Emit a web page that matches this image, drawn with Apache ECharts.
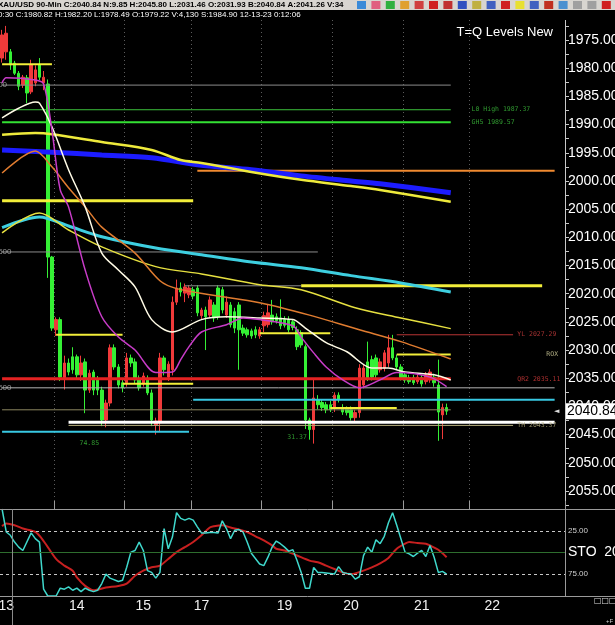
<!DOCTYPE html>
<html>
<head>
<meta charset="utf-8">
<script src="https://cdn.jsdelivr.net/npm/echarts@6.0.0/dist/echarts.min.js"></script>
<style>
  html, body { margin: 0; padding: 0; background: #000; }
  #chart { width: 615px; height: 625px; }
</style>
</head>
<body>
<div id="chart"></div>
<script>
  // 90-min candles, [open, close, low, high]
  var candles = [
    [1978.2,1974.1,1973.2,1979.0],[1977.1,1973.8,1972.5,1978.5],[1977.1,1979.4,1976.6,1980.3],[1979.1,1980.9,1978.7,1981.2],
    [1980.9,1983.2,1980.5,1983.9],[1983.0,1981.6,1981.2,1983.5],[1981.7,1984.4,1981.2,1986.2],[1984.2,1979.4,1978.5,1984.6],
    [1982.6,1980.3,1979.5,1983.2],[1979.4,1981.6,1978.2,1982.1],[1982.6,1981.6,1980.5,1983.9],[1982.8,2013.5,1982.0,2017.2],
    [2013.5,2026.1,2013.3,2026.6],[2026.4,2024.6,2024.2,2027.5],[2024.6,2034.8,2024.2,2035.5],[2034.9,2032.3,2031.0,2037.0],
    [2032.3,2033.9,2031.5,2034.5],[2031.2,2033.5,2029.5,2034.2],[2031.2,2034.4,2030.8,2035.2],[2034.4,2032.3,2031.0,2035.5],
    [2032.1,2037.1,2031.5,2041.2],[2037.1,2034.1,2033.5,2037.6],[2033.9,2037.1,2033.5,2038.0],[2035.3,2037.1,2034.6,2038.0],
    [2037.1,2042.4,2036.5,2043.5],[2042.4,2039.4,2038.8,2043.7],[2039.4,2029.6,2029.0,2040.0],[2029.6,2033.0,2029.0,2033.5],
    [2033.0,2036.2,2032.5,2036.8],[2035.8,2036.7,2035.0,2037.5],[2035.8,2031.4,2030.5,2036.5],[2031.4,2032.3,2030.8,2033.0],
    [2032.1,2035.3,2031.5,2036.0],[2035.0,2036.7,2034.5,2037.2],[2036.0,2034.6,2034.0,2036.5],[2035.0,2037.6,2034.5,2038.0],
    [2037.6,2042.4,2037.0,2043.5],[2043.3,2042.6,2042.0,2045.0],[2042.9,2031.4,2030.5,2044.5],[2031.4,2033.5,2031.0,2034.5],
    [2034.8,2032.5,2032.0,2035.5],[2033.5,2021.5,2020.5,2034.5],[2021.5,2019.0,2017.5,2022.0],[2019.0,2019.7,2018.0,2020.5],
    [2019.9,2018.8,2018.2,2021.5],[2020.2,2019.0,2018.5,2020.8],[2019.3,2020.4,2018.8,2021.0],[2019.0,2023.4,2018.5,2024.0],
    [2023.9,2022.9,2022.5,2024.5],[2022.9,2024.1,2022.3,2030.0],[2023.8,2021.1,2020.5,2024.3],[2022.0,2024.3,2021.5,2025.0],
    [2019.0,2024.1,2018.5,2024.6],[2019.3,2022.9,2018.8,2023.5],[2023.8,2021.5,2020.5,2024.3],[2022.0,2025.5,2021.5,2026.0],
    [2023.2,2026.1,2022.5,2027.0],[2022.0,2026.4,2021.5,2033.5],[2026.1,2027.0,2025.5,2027.5],[2026.4,2027.3,2026.0,2027.8],
    [2026.6,2027.5,2026.2,2028.0],[2026.4,2027.3,2025.8,2027.9],[2027.5,2026.4,2025.9,2028.0],[2025.7,2023.9,2023.2,2026.8],
    [2025.5,2023.4,2022.0,2026.0],[2023.8,2025.0,2021.1,2025.5],[2024.1,2024.8,2023.5,2025.3],[2024.3,2025.7,2021.0,2026.3],
    [2024.6,2025.6,2024.0,2026.0],[2024.6,2026.4,2024.0,2026.9],[2025.0,2026.0,2024.5,2026.5],[2026.4,2029.4,2025.8,2030.0],
    [2026.9,2029.1,2026.5,2029.6],[2029.4,2042.4,2029.0,2044.0],[2042.4,2044.1,2042.0,2045.9],[2044.1,2038.5,2035.0,2046.6],
    [2038.8,2039.7,2038.0,2040.5],[2039.3,2040.2,2038.8,2040.8],[2039.7,2040.6,2039.2,2041.2],[2039.7,2040.6,2039.0,2041.0],
    [2040.1,2038.0,2037.5,2041.0],[2038.0,2038.8,2037.5,2039.3],[2040.2,2041.0,2039.6,2041.5],[2040.5,2041.1,2040.0,2041.6],
    [2040.6,2042.0,2040.0,2042.5],[2042.0,2041.1,2040.6,2042.6],[2041.1,2033.2,2032.5,2042.0],[2036.2,2033.2,2032.5,2036.8],
    [2032.1,2034.9,2028.5,2035.5],[2031.7,2034.8,2031.0,2035.4],[2031.4,2034.4,2030.8,2035.0],[2033.5,2032.1,2031.5,2034.0],
    [2033.2,2030.5,2030.0,2033.8],[2032.3,2029.6,2027.3,2033.0],[2029.6,2031.4,2027.3,2031.8],[2031.4,2033.0,2030.8,2033.5],
    [2033.0,2034.9,2032.5,2035.4],[2034.4,2035.3,2034.0,2035.8],[2034.9,2035.6,2034.4,2036.0],[2034.9,2035.8,2034.4,2036.2],
    [2035.6,2034.8,2034.3,2036.0],[2034.9,2036.0,2034.4,2036.5],[2035.6,2034.4,2033.9,2036.1],[2035.3,2033.9,2033.4,2035.8],
    [2034.8,2035.8,2034.2,2036.5],[2036.2,2041.0,2031.7,2046.1],[2041.5,2040.2,2039.5,2045.8],[2040.2,2040.84,2039.5,2041.5]
  ];
  var lastClose = 2040.84;
  var slotCount = 136;

  var dayLabels = ['13', '14', '15', '17', '19', '20', '21', '22'];
  var dayLabelIdx = [1, 18, 34, 48, 68, 84, 101, 118];
  var sessionIdx = [13, 30, 46, 63, 80, 97, 113];

  var priceLabels = [1975, 1980, 1985, 1990, 1995, 2000, 2005, 2010, 2015, 2020, 2025, 2030, 2035, 2040, 2045, 2050, 2055];
  var priceTicks = [1972.5, 1975, 1977.5, 1980, 1982.5, 1985, 1987.5, 1990, 1992.5, 1995, 1997.5, 2000, 2002.5, 2005,
    2007.5, 2010, 2012.5, 2015, 2017.5, 2020, 2022.5, 2025, 2027.5, 2030, 2032.5, 2035, 2037.5, 2040, 2042.5, 2045,
    2047.5, 2050, 2052.5, 2055, 2057.5];

  // moving averages, [bar, price]
  var blueMA = [[0,1994.5],[12,1994.9],[24,1995.4],[36,1995.9],[48,1997.2],[60,1998.0],[72,1999.1],[84,2000.0],[91,2000.5],[108,2002.1]];
  var yellowMA = [[0,1991.8],[8,1991.5],[12,1991.7],[24,1993.1],[36,1994.5],[43,1996.3],[48,1996.8],[60,1998.4],[72,1999.8],[84,2000.9],[91,2001.6],[108,2003.7]];
  var cyanMA = [[0,2008.3],[9,2006.4],[16,2008.0],[24,2009.9],[37,2011.9],[48,2013.1],[60,2014.4],[72,2015.4],[84,2016.8],[96,2018.1],[108,2019.7]];
  var yellowMA2 = [[0,2009.2],[9,2005.7],[16,2008.7],[24,2011.7],[37,2015.2],[48,2016.5],[62,2018.4],[72,2019.3],[85,2022.5],[96,2024.3],[108,2026.2]];
  var orangeMA = [[0,1998.6],[8,1994.7],[12,1997.5],[16,2001.2],[20,2004.6],[24,2008.2],[32,2012.8],[38,2017.7],[42,2019.1],[50,2020.2],[62,2021.6],[74,2023.8],[86,2026.4],[96,2028.5],[108,2031.6]];
  var whiteMA = [[0,1988.8],[4,1987.1],[8,1986.0],[9,1986.2],[12,1990.4],[16,1998.0],[20,2004.6],[24,2012.8],[28,2015.8],[32,2018.8],[36,2024.6],[41,2026.8],[48,2024.6],[54,2024.1],[62,2024.3],[70,2024.6],[73,2026.1],[78,2028.7],[83,2030.3],[89,2033.2],[93,2033.2],[97,2033.9],[104,2034.4],[108,2035.3]];
  var magentaMA = [[0,1982.6],[1,1981.7],[8,1982.1],[10,1982.8],[12,1991.0],[14,2001.6],[16,2004.6],[20,2015.8],[24,2024.1],[28,2027.7],[32,2030.0],[37,2034.0],[41,2033.9],[43,2031.7],[45,2029.4],[48,2026.8],[54,2025.5],[58,2024.3],[62,2024.6],[70,2025.7],[72,2027.7],[75,2030.5],[78,2033.0],[82,2035.3],[86,2036.7],[91,2035.3],[95,2034.0],[103,2034.8],[107,2036.5]];

  // stochastic %K / %D, [bar, value]
  var stochK = [[0,0],[1,26.4],[2,30.2],[3,38],[4,43.8],[5,47.7],[7,27.5],[8,34.1],[9,38],[10,92.2],[11,100],[13,100],[14,91],
    [15,92.2],[16,89.5],[17,93.4],[18,91],[19,95],[20,91],[21,93.4],[22,95],[23,93.4],[24,85.7],[25,74.8],[26,79.5],[28,83.3],
    [29,81.8],[30,67],[31,49.6],[32,47.7],[33,38],[34,47.7],[35,70.9],[36,72.9],[37,79.5],[38,72.9],[39,22.5],[40,45.7],
    [41,32.2],[42,4.3],[43,10.8],[44,12.8],[45,10.8],[46,12.8],[47,20.5],[48,27.5],[49,27.5],[50,27.1],[51,27.1],[52,27.5],
    [53,13.6],[54,22.5],[55,34.1],[56,24.4],[57,23.6],[58,26.4],[59,38],[60,50.8],[62,63.2],[63,65.1],[64,55.4],[65,43.8],
    [66,36.8],[67,39.9],[68,43.8],[69,48.4],[70,46.9],[71,59.3],[72,72.9],[73,91.1],[74,91.1],[75,67.1],[76,72.9],[77,72.9],
    [79,74],[80,74.8],[81,66.3],[82,72.9],[83,74],[84,74.8],[85,80.6],[86,77.9],[87,53.5],[88,43.8],[89,49.6],[90,35.3],
    [91,39.9],[92,31.4],[93,15.9],[94,4.3],[95,18.6],[96,34.1],[97,49.6],[98,51.6],[99,54.6],[100,50.8],[101,47.7],[102,54.6],
    [103,41.9],[104,55.4],[105,72.9],[106,71.7],[107,74.8]];
  var stochD = [[0,19.8],[1,16.7],[3,18.6],[5,22.5],[8,26.4],[10,36.8],[13,57.4],[15,65.1],[17,70.9],[18,78.7],[20,88.4],
    [22,93.4],[25,90.3],[28,88.4],[30,85.7],[32,76.7],[34,70.9],[36,67],[38,65.1],[40,57.4],[42,49.6],[44,43.8],[46,38],
    [48,30.2],[50,21.3],[51,19.8],[53,18.6],[55,21.3],[57,23.6],[59,26.4],[61,31.4],[63,36],[65,41.9],[66,45.7],[68,47.7],
    [71,53.5],[74,59.3],[76,61.2],[78,65.1],[80,69],[82,72.9],[84,74.8],[85,74],[87,70.9],[89,67],[91,62.4],[93,56.2],
    [95,45.7],[97,39.9],[98,38],[100,39.1],[102,39.9],[103,41.9],[105,46.9],[107,55.4]];

  // horizontal levels: [kind, price, from bar, to bar]
  var levelLines = [
    ['yellow', 1979.3, 0, 12], ['gray', 1983.0, 0, 108], ['greenThin', 1987.37, 0, 108], ['green', 1989.57, 0, 108],
    ['orange', 1998.2, 47, 133], ['yellowWide', 2003.5, 0, 46], ['gray', 2012.6, 0, 76], ['gray', 2018.6, 44, 72],
    ['yellowWide', 2018.6, 72, 130], ['yellow', 2027.3, 13, 29], ['yellow', 2027.0, 62, 79], ['redThin', 2027.29, 95, 123],
    ['yellow', 2030.8, 95, 108], ['red', 2035.11, 0, 108], ['grayLight', 2036.7, 0, 133], ['yellow', 2036.0, 29, 46],
    ['cyan', 2038.8, 46, 133], ['yellow', 2040.3, 79, 95], ['olive', 2040.6, 0, 108], ['khaki', 2043.37, 16, 123],
    ['white', 2042.8, 16, 133], ['cyan', 2044.5, 0, 45]
  ];
  // level captions: [text, price, bar]
  var levelTags = [['L0 High 1987.37', 1987.37, 113], ['GH5 1989.57', 1989.57, 113], ['YL 2027.29', 2027.29, 124],
    ['ROX', 2030.8, 131], ['QR2 2035.11', 2035.11, 124], ['TH 2043.37', 2043.37, 124]];
  var lowTags = [['74.85', 2046.5, 21], ['31.37', 2045.4, 71]];
  var edgeTags = [['00', 1983.0], ['500', 2012.6], ['500', 2036.7]];

  var headerTop = 'XAU/USD 90-Min C:2040.84 N:9.85 H:2045.80 L:2031.46 O:2031.93 B:2040.84 A:2041.26 V:34';
  var headerBottom = '0:30 C:1980.82 H:1982.20 L:1978.49 O:1979.22 V:4,130 S:1984.90 12-13-23 0:12:06';

  var levelStyle = {
    yellow: ['#f2ee3a', 2], yellowWide: ['#f2ee3a', 3], gray: ['#8c8c8c', 1], grayLight: ['#b4b4b4', 1],
    greenThin: ['#3cbf3c', 1], green: ['#33e033', 2], orange: ['#f08a30', 2], redThin: ['#b83434', 1],
    red: ['#e42222', 3], cyan: ['#38c8e2', 2], olive: ['#8c8660', 1], khaki: ['#b4ac7c', 1], white: ['#ffffff', 3]
  };
  var tagColors = ['#3cbf3c', '#3cbf3c', '#c83c3c', '#d8d4a0', '#d83c3c', '#b4ac7c'];

  var cats = [];
  for (var i = 0; i < slotCount; i++) {
    var k = dayLabelIdx.indexOf(i);
    cats.push(k >= 0 ? dayLabels[k] : '');
  }

  function lineSeries(data, color, width, smooth) {
    return {
      type: 'line', xAxisIndex: 0, yAxisIndex: 0, data: data, symbol: 'none', silent: true,
      smooth: smooth, z: 6, lineStyle: {color: color, width: width}
    };
  }

  var series = [{
    type: 'candlestick', xAxisIndex: 0, yAxisIndex: 0, data: candles, barWidth: 3, z: 2, silent: true,
    itemStyle: {color: '#35f035', color0: '#f03a3a', borderColor: '#35f035', borderColor0: '#f03a3a', borderWidth: 1}
  }];

  levelLines.forEach(function (l) {
    var st = levelStyle[l[0]];
    series.push({
      type: 'line', xAxisIndex: 0, yAxisIndex: 0, silent: true, symbol: 'none', z: 5,
      data: [[l[2], l[1]], [l[3], l[1]]], lineStyle: {color: st[0], width: st[1]}
    });
  });

  series.push(lineSeries(blueMA, '#1c1cff', 5, 0.3));
  series.push(lineSeries(yellowMA, '#eeea3c', 2.5, 0.3));
  series.push(lineSeries(cyanMA, '#3ecfe0', 3, 0.3));
  series.push(lineSeries(yellowMA2, '#e6e040', 1.5, 0.3));
  series.push(lineSeries(orangeMA, '#e07c30', 1.5, 0.3));
  series.push(lineSeries(whiteMA, '#fffbe6', 1.5, 0.3));
  series.push(lineSeries(magentaMA, '#c83cc8', 1.5, 0.3));

  var monoLabel = {show: true, formatter: '{b}', fontSize: 6.5, fontFamily: 'DejaVu Sans Mono'};
  series.push({
    type: 'scatter', xAxisIndex: 0, yAxisIndex: 0, symbolSize: 0.1, silent: true, z: 8,
    itemStyle: {color: 'rgba(0,0,0,0)'},
    label: Object.assign({position: 'right', distance: 0}, monoLabel),
    data: levelTags.map(function (t, i) {
      return {name: t[0], value: [t[2], t[1]], label: {color: tagColors[i]}};
    })
  });
  series.push({
    type: 'scatter', xAxisIndex: 0, yAxisIndex: 0, symbolSize: 0.1, silent: true, z: 8,
    itemStyle: {color: 'rgba(0,0,0,0)'},
    label: Object.assign({position: 'inside', color: '#3cbf3c'}, monoLabel),
    data: lowTags.map(function (t) { return {name: t[0], value: [t[2], t[1]]}; })
  });
  series.push({
    type: 'scatter', xAxisIndex: 0, yAxisIndex: 0, symbolSize: 0.1, silent: true, z: 8,
    itemStyle: {color: 'rgba(0,0,0,0)'},
    label: {show: true, formatter: '{b}', position: 'right', distance: -4, color: '#bbb', fontSize: 8, fontFamily: 'Liberation Sans'},
    data: edgeTags.map(function (t) { return {name: t[0], value: [0, t[1]]}; })
  });

  series.push({
    type: 'line', xAxisIndex: 1, yAxisIndex: 1, data: stochK, symbol: 'none', silent: true, z: 4,
    lineStyle: {color: '#3fd8cc', width: 1.5},
    markLine: {
      silent: true, symbol: 'none', label: {show: false},
      data: [
        {yAxis: 25, lineStyle: {color: '#c8c8c8', type: [3, 3], width: 1}},
        {yAxis: 75, lineStyle: {color: '#c8c8c8', type: [3, 3], width: 1}},
        {yAxis: 50, lineStyle: {color: '#2e6e2e', type: 'solid', width: 1}}
      ]
    }
  });
  series.push({
    type: 'line', xAxisIndex: 1, yAxisIndex: 1, data: stochD, symbol: 'none', silent: true, z: 3,
    smooth: 0.3, lineStyle: {color: '#c82020', width: 2}
  });

  var toolbarColors = ['#3a8ad8', '#e06080', '#30b040', '#e0a030', '#d04040', '#d02020', '#c03030', '#3050c0',
    '#c0b040', '#4060c0', '#d02020', '#e8e030', '#4060c0', '#c03020', '#4a90d0', '#a0a0a0', '#a0a0a0', '#d02020'];

  var graphics = [
    {type: 'rect', shape: {x: 0, y: 0, width: 615, height: 10}, style: {fill: '#d8d5d0'}, z: 100},
    {type: 'text', x: -2, y: 5, z: 101, style: {text: headerTop, fill: '#000', font: 'bold 8px "Liberation Sans"',
      textVerticalAlign: 'middle', verticalAlign: 'middle'}},
    {type: 'rect', shape: {x: 0, y: 10, width: 615, height: 10}, style: {fill: '#000'}, z: 100},
    {type: 'text', x: -2, y: 15, z: 101, style: {text: headerBottom, fill: '#fff', font: '8px "Liberation Sans"',
      textVerticalAlign: 'middle', verticalAlign: 'middle'}},
    {type: 'text', x: 553, y: 32, z: 101, style: {text: 'T=Q Levels New', fill: '#fff', font: '13px "Liberation Sans"',
      textAlign: 'right', align: 'right', textVerticalAlign: 'middle', verticalAlign: 'middle'}},
    {type: 'line', shape: {x1: 0, y1: 509.5, x2: 615, y2: 509.5}, style: {stroke: '#9a9a9a', lineWidth: 1}, z: 50},
    {type: 'line', shape: {x1: 0, y1: 596.5, x2: 615, y2: 596.5}, style: {stroke: '#9a9a9a', lineWidth: 1}, z: 50},
    {type: 'line', shape: {x1: 12.5, y1: 509, x2: 12.5, y2: 625}, style: {stroke: '#8a8a8a', lineWidth: 1}, z: 50},
    {type: 'text', x: 594, y: 601, z: 101, style: {text: '\u25a1\u25a1\u25a1', fill: '#ddd', font: '8px "DejaVu Sans"',
      textVerticalAlign: 'middle', verticalAlign: 'middle'}},
    {type: 'text', x: 606, y: 621, z: 101, style: {text: '+F', fill: '#ccc', font: '6px "Liberation Sans"',
      textVerticalAlign: 'middle', verticalAlign: 'middle'}}
  ];
  toolbarColors.forEach(function (c, i) {
    graphics.push({type: 'rect', shape: {x: 357 + i * 14.4, y: 1, width: 9, height: 8}, style: {fill: c}, z: 102});
  });

  var option = {
    backgroundColor: '#000',
    animation: false,
    textStyle: {fontFamily: 'Liberation Sans'},
    grid: [
      {left: 0, right: 50, top: 20, height: 488, outerBoundsMode: 'none', containLabel: false},
      {left: 0, right: 50, top: 509, height: 87, outerBoundsMode: 'none', containLabel: false}
    ],
    xAxis: [
      {
        gridIndex: 0, type: 'category', data: cats, boundaryGap: true,
        axisLine: {show: false}, axisTick: {show: false}, axisLabel: {show: false},
        splitLine: {show: true, interval: function (idx) { return sessionIdx.indexOf(idx) >= 0; },
          lineStyle: {color: '#5c5c5c', type: [1, 3], width: 1}}
      },
      {
        gridIndex: 1, type: 'category', data: cats, boundaryGap: true, position: 'bottom',
        axisLine: {show: false}, axisTick: {show: false}, splitLine: {show: false},
        axisLabel: {interval: function (idx) { return dayLabelIdx.indexOf(idx) >= 0; },
          color: '#f0f0f0', fontSize: 14, margin: 3}
      },
      {
        gridIndex: 1, type: 'category', data: cats, boundaryGap: true, position: 'top',
        axisLine: {show: false}, axisLabel: {show: false}, splitLine: {show: false},
        axisTick: {show: true, inside: false, length: 8, interval: function (idx) { return sessionIdx.indexOf(idx) >= 0; },
          lineStyle: {color: '#9a9a9a'}}
      }
    ],
    yAxis: [
      {
        gridIndex: 0, type: 'value', inverse: true, position: 'right', min: 1971.45, max: 2058.02,
        axisLine: {show: true, lineStyle: {color: '#c8c8c8'}},
        axisTick: {show: true, customValues: priceTicks, length: 4, lineStyle: {color: '#c8c8c8'}},
        axisLabel: {customValues: priceLabels, margin: 3, color: '#fff', fontSize: 14,
          formatter: function (v) { return v.toFixed(2); }},
        splitLine: {show: false}
      },
      {
        gridIndex: 1, type: 'value', inverse: true, position: 'right', min: 0, max: 100, interval: 25,
        axisLine: {show: true, lineStyle: {color: '#9a9a9a'}}, axisTick: {show: false}, splitLine: {show: false},
        axisLabel: {
          margin: 3,
          formatter: function (v) {
            if (v === 25 || v === 75) return '{s|' + v.toFixed(2) + '}';
            if (v === 50) return '{b|STO  20}';
            return '';
          },
          rich: {
            s: {color: '#d0d0d0', fontSize: 8},
            b: {color: '#fff', fontSize: 14}
          }
        }
      }
    ],
    graphic: graphics,
    series: series
  };

  var chart = echarts.init(document.getElementById('chart'));
  chart.setOption(option);

  // last price tag on the price axis
  var tagY = chart.convertToPixel({yAxisIndex: 0}, lastClose);
  chart.setOption({
    graphic: graphics.concat([
      {type: 'rect', shape: {x: 566, y: tagY - 8, width: 49, height: 16}, style: {fill: '#fff'}, z: 103},
      {type: 'text', x: 567, y: tagY, z: 104, style: {text: lastClose.toFixed(2), fill: '#000', font: '14px "Liberation Sans"',
        textVerticalAlign: 'middle', verticalAlign: 'middle'}},
      {type: 'text', x: 554, y: tagY, z: 104, style: {text: '\u25c4', fill: '#ddd', font: '7px "DejaVu Sans"',
        textVerticalAlign: 'middle', verticalAlign: 'middle'}}
    ])
  });
</script>
</body>
</html>
